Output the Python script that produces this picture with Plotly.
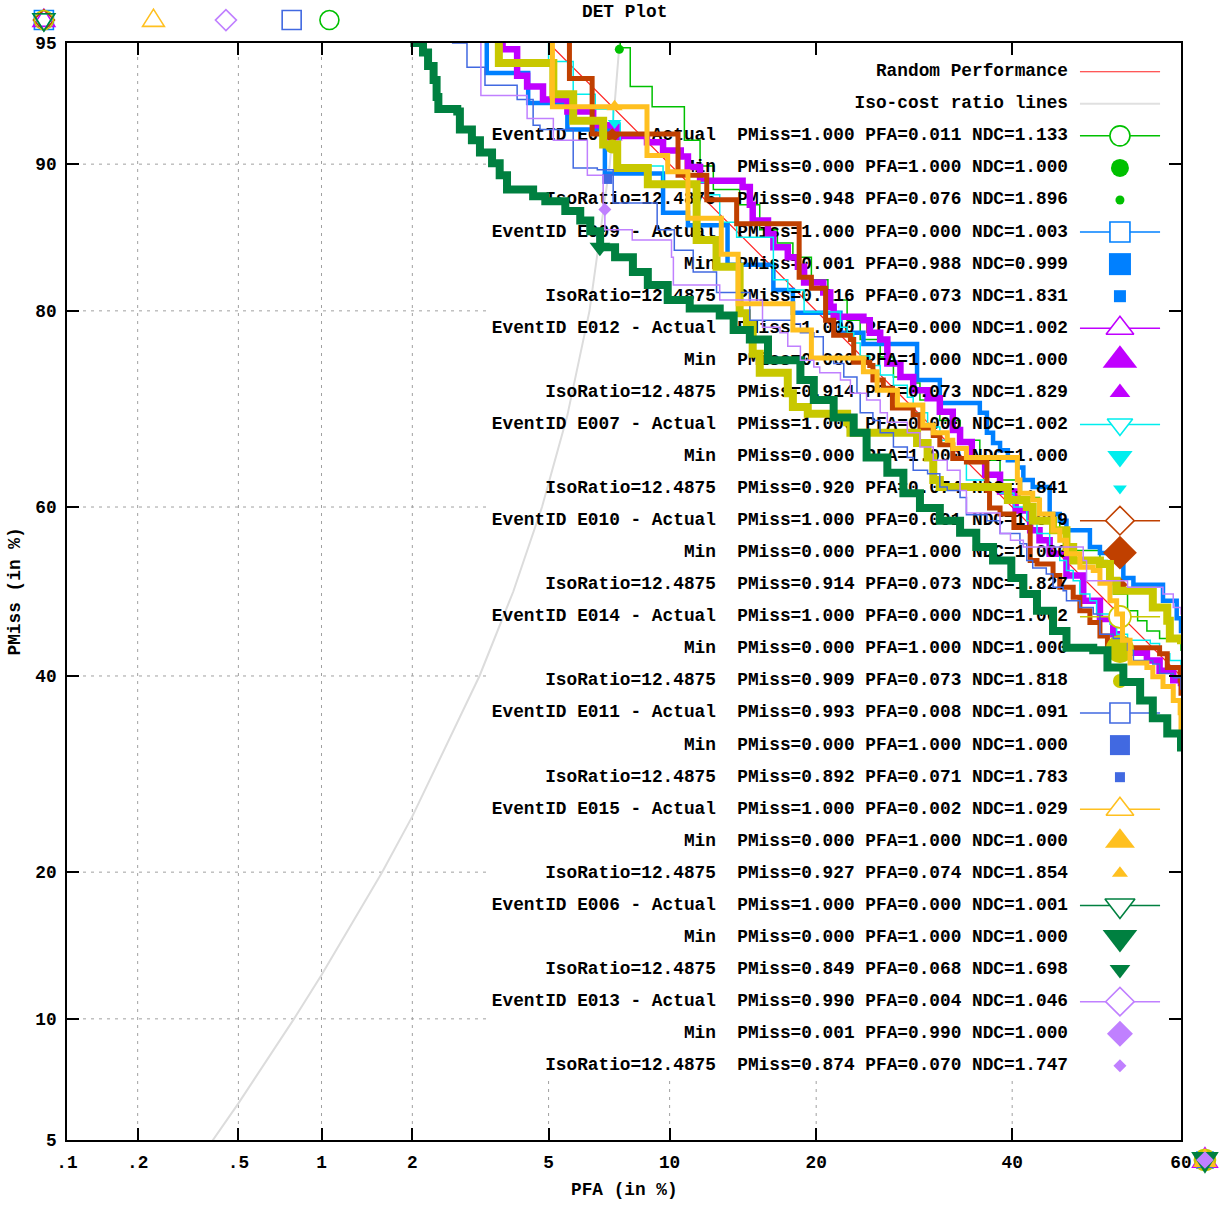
import plotly.graph_objects as go
from statistics import NormalDist

_nd = NormalDist()


def probit(pct):
    return _nd.inv_cdf(pct / 100.0)


# ---------------- axis ticks ----------------
x_tick_vals = [0.1, 0.2, 0.5, 1, 2, 5, 10, 20, 40, 60]
x_tick_text = [".1", ".2", ".5", "1", "2", "5", "10", "20", "40", "60"]
y_tick_vals = [5, 10, 20, 40, 60, 80, 90, 95]
y_tick_text = ["5", "10", "20", "40", "60", "80", "90", "95"]

# ---------------- reference lines ----------------
random_pfa = [5.0, 60.0]
random_pmiss = [95.0, 40.0]
isoline_pfa = [0.38, 0.5, 0.8, 1.0, 1.6, 2.0, 3.2, 4.0, 4.8, 5.6, 6.4, 7.2, 7.61]
isoline_pmiss = [4.75, 6.24, 10.0, 12.5, 20.0, 25.0, 40.0, 50.0, 60.0, 70.0, 80.0, 90.0, 95.0]

# ---------------- events ----------------
event_ids = ["E008", "E009", "E012", "E007", "E010", "E014", "E011", "E015", "E006", "E013"]
event_colors = ["#00c000", "#0080ff", "#c000ff", "#00eeee", "#c04000",
                "#c8c800", "#4169e1", "#ffc020", "#008040", "#c080ff"]
event_symbols = ["circle", "square", "triangle-up", "triangle-down", "diamond",
                 "circle", "square", "triangle-up", "triangle-down", "diamond"]
event_widths = [1.5, 4.5, 6.5, 1.5, 5, 8, 1.5, 5, 8, 1.5]
act_sizes = [20, 20, 24, 22, 22, 22, 20, 24, 26, 22]
min_sizes = [18, 22, 30, 22, 26, 28, 20, 26, 30, 20]
iso_sizes = [9, 12, 18, 12, 12, 14, 10, 14, 18, 10]

iso_ratio = "12.4875"
actual_pmiss = [1.000, 1.000, 1.000, 1.000, 1.000, 1.000, 0.993, 1.000, 1.000, 0.990]
actual_pfa = [0.011, 0.000, 0.000, 0.000, 0.001, 0.000, 0.008, 0.002, 0.000, 0.004]
actual_ndc = [1.133, 1.003, 1.002, 1.002, 1.009, 1.002, 1.091, 1.029, 1.001, 1.046]
min_pmiss = [0.000, 0.001, 0.000, 0.000, 0.000, 0.000, 0.000, 0.000, 0.000, 0.001]
min_pfa = [1.000, 0.988, 1.000, 1.000, 1.000, 1.000, 1.000, 1.000, 1.000, 0.990]
min_ndc = [1.000, 0.999, 1.000, 1.000, 1.000, 1.000, 1.000, 1.000, 1.000, 1.000]
iso_pmiss = [0.948, 0.916, 0.914, 0.920, 0.914, 0.909, 0.892, 0.927, 0.849, 0.874]
iso_pfa = [0.076, 0.073, 0.073, 0.074, 0.073, 0.073, 0.071, 0.074, 0.068, 0.070]
iso_ndc = [1.896, 1.831, 1.829, 1.841, 1.827, 1.818, 1.783, 1.854, 1.698, 1.747]

# ---------------- DET curves (PFA %, PMiss %) ----------------
pfa_E008 = [7.64, 7.64, 8.08, 9.11, 10.8, 11.7, 12.5, 14.2, 15.6, 16.9, 18.1, 19.6, 21.0, 22.7, 23.9,
            25.8, 27.1, 29.1, 29.8, 31.9, 34.1, 36.3, 38.6, 40.9, 43.2, 45.6, 46.4, 50.4, 51.3, 52.0,
            53.7, 54.9, 56.0, 57.5, 59.5, 60.0, 62.0]
pmiss_E008 = [97.0, 94.85, 93.5, 92.7, 91.2, 89.9, 88.6, 87.7, 86.1, 85.2, 84.2, 82.5, 80.9, 79.2, 77.5,
              75.9, 74.0, 73.4, 71.7, 69.6, 67.5, 65.3, 63.1, 61.1, 59.2, 57.3, 54.9, 53.7, 51.6, 49.7,
              47.7, 46.5, 45.3, 44.4, 44.2, 43.0, 42.0]

pfa_E009 = [3.36, 3.36, 4.4, 5.61, 7.0, 9.66, 11.0, 13.4, 16.6, 18.1, 22.1, 24.2, 29.5, 31.9, 36.3,
            37.1, 37.8, 38.6, 39.5, 40.6, 41.3, 42.4, 44.4, 45.6, 46.4, 49.2, 50.4, 52.8, 53.2, 54.4,
            57.9, 59.5, 60.0, 62.0]
pmiss_E009 = [97.0, 94.0, 92.85, 91.7, 89.5, 87.2, 86.4, 83.65, 81.7, 79.85, 78.1, 77.1, 73.7, 71.4, 70.4,
              68.3, 67.2, 66.4, 65.3, 64.5, 63.1, 62.3, 59.2, 58.4, 57.3, 55.3, 54.6, 53.7, 51.6, 50.8,
              48.9, 46.8, 45.3, 45.0]

pfa_E012 = [3.73, 3.73, 4.10, 4.37, 4.83, 5.61, 6.54, 7.5, 8.86, 9.66, 10.6, 11.0, 11.7, 14.4, 14.9,
            15.1, 16.2, 16.6, 17.7, 18.5, 19.0, 20.6, 21.2, 21.5, 24.2, 24.8, 25.8, 26.5, 27.8, 29.1,
            30.6, 31.9, 33.3, 34.1, 35.4, 36.9, 38.6, 40.4, 42.1, 43.2, 44.4, 46.4, 48.4, 50.4, 52.0,
            52.8, 54.4, 56.0, 57.5, 59.1, 60.0, 62.0]
pmiss_E012 = [97.0, 94.8, 93.9, 93.5, 93.0, 92.5, 91.9, 91.4, 91.1, 90.7, 90.4, 89.85, 89.1, 88.75, 87.7,
              86.7, 85.8, 84.9, 84.2, 83.5, 82.3, 81.5, 80.35, 79.5, 79.2, 78.1, 77.5, 75.3, 74.0, 72.7,
              71.9, 70.5, 68.6, 67.3, 65.5, 63.7, 61.8, 59.6, 57.3, 56.1, 54.5, 51.9, 48.9, 46.7, 44.9,
              43.0, 42.7, 41.8, 40.6, 39.5, 39.2, 39.0]

pfa_E007 = [5.0, 5.0, 5.81, 6.62, 7.34, 7.64, 9.66, 12.1, 12.9, 14.0, 16.6, 17.7, 19.0, 22.1, 22.7,
            23.3, 23.9, 24.8, 25.8, 27.1, 28.5, 29.1, 30.6, 31.9, 33.3, 34.8, 37.1, 38.6, 40.2, 41.7,
            42.9, 44.4, 45.6, 46.4, 47.2, 48.0, 49.2, 50.0, 51.6, 52.4, 53.7, 56.4, 57.5, 58.7, 60.0, 62.0]
pmiss_E007 = [97.0, 94.4, 93.2, 92.6, 92.0, 89.9, 89.0, 88.3, 86.6, 85.6, 82.5, 81.7, 79.9, 78.6, 78.1,
              77.2, 76.0, 75.1, 74.2, 73.2, 72.0, 70.4, 68.9, 67.5, 65.3, 63.1, 62.3, 61.6, 60.0, 58.4,
              56.9, 55.3, 53.7, 52.5, 51.3, 49.7, 48.9, 47.3, 46.1, 44.9, 44.2, 43.8, 42.6, 41.8, 40.6, 40.0]

pfa_E010 = [5.68, 5.68, 6.5, 10.45, 12.1, 14.0, 18.6, 19.6, 20.8, 21.5, 23.0, 23.3, 24.8, 25.1, 26.1,
            27.0, 29.1, 29.8, 31.2, 31.9, 33.3, 34.8, 37.1, 37.4, 38.6, 40.2, 42.1, 42.9, 44.8, 45.6,
            47.2, 48.0, 49.2, 50.4, 51.3, 57.5, 58.4, 59.9, 60.0, 62.0]
pmiss_E010 = [97.0, 93.8, 91.5, 89.4, 88.0, 86.5, 82.7, 81.85, 79.2, 77.9, 77.5, 75.4, 75.1, 73.7, 72.9,
              70.9, 70.2, 68.8, 68.0, 67.0, 65.5, 65.1, 61.9, 59.9, 59.2, 57.6, 53.7, 53.3, 51.9, 50.5,
              49.3, 47.7, 46.3, 44.7, 43.3, 42.6, 41.0, 39.5, 38.0, 37.0]

pfa_E014 = [3.64, 3.64, 5.15, 5.81, 6.93, 7.51, 8.9, 11.5, 12.7, 14.2, 14.7, 15.1, 15.6, 17.7, 18.1,
            19.3, 22.7, 23.0, 29.5, 30.6, 31.2, 31.9, 39.5, 41.7, 42.4, 44.8, 46.4, 47.2, 50.4, 51.6,
            52.4, 56.7, 58.4, 58.7, 60.0, 62.0]
pmiss_E014 = [97.0, 94.35, 93.2, 92.1, 91.0, 89.8, 88.9, 85.4, 83.5, 79.8, 78.8, 76.2, 74.4, 72.4, 71.0,
              70.3, 69.4, 68.3, 67.2, 65.6, 63.1, 62.3, 60.8, 60.0, 58.4, 57.3, 55.3, 53.7, 53.3, 51.3,
              50.1, 48.1, 46.5, 44.4, 44.2, 44.0]

pfa_E011 = [2.65, 2.94, 3.32, 4.1, 4.54, 4.74, 5.81, 6.7, 7.34, 9.36, 10.25, 11.3, 12.7, 14.9, 18.1,
            18.7, 19.8, 20.6, 21.5, 22.4, 23.6, 23.9, 25.1, 25.8, 27.1, 28.5, 29.1, 30.6, 31.9, 32.7,
            34.1, 34.8, 37.1, 38.6, 40.9, 41.7, 42.4, 44.0, 44.8, 46.0, 46.4, 48.0, 49.6, 50.4, 52.0,
            53.7, 54.4, 56.7, 57.5, 59.1, 60.0, 62.0]
pmiss_E011 = [95.0, 94.2, 93.55, 93.0, 91.9, 91.7, 89.8, 89.7, 87.8, 86.1, 84.7, 83.1, 81.5, 79.2, 78.9,
              78.1, 77.75, 75.9, 75.3, 74.0, 72.4, 70.4, 69.6, 68.3, 66.75, 65.6, 64.2, 63.8, 62.3, 61.9,
              61.1, 59.1, 58.4, 56.9, 55.7, 53.7, 52.8, 52.1, 50.5, 50.1, 48.9, 48.1, 47.3, 44.9, 44.4,
              43.0, 41.8, 41.4, 40.3, 39.8, 38.5, 38.0]

pfa_E015 = [5.12, 5.12, 8.86, 9.9, 11.0, 13.0, 14.1, 18.1, 19.6, 24.2, 25.5, 27.5, 30.1, 31.2, 32.7,
            33.3, 34.8, 40.6, 40.9, 42.4, 43.2, 44.8, 45.6, 46.4, 48.0, 49.6, 50.4, 51.6, 52.4, 53.1,
            54.0, 56.0, 56.7, 57.9, 59.1, 59.9, 60.0, 62.0]
pmiss_E015 = [97.0, 92.7, 90.45, 89.6, 86.85, 84.4, 80.6, 78.35, 75.8, 74.5, 72.7, 71.2, 69.1, 68.3, 67.5,
              66.6, 65.6, 63.1, 61.6, 60.8, 59.2, 57.3, 56.1, 54.5, 52.9, 52.5, 51.0, 48.9, 47.3, 44.2,
              41.5, 41.0, 39.9, 38.8, 37.2, 35.8, 33.8, 33.0]

pfa_E006 = [2.03, 2.03, 2.16, 2.24, 2.33, 2.38, 2.41, 2.75, 2.80, 3.04, 3.21, 3.48, 3.66, 3.84, 4.54,
            4.9, 5.54, 6.06, 6.43, 6.81, 7.42, 8.2, 8.9, 9.9, 11.1, 12.9, 13.8, 14.9, 16.2, 18.7,
            19.8, 21.5, 23.3, 24.5, 26.5, 28.1, 29.8, 31.9, 34.1, 35.9, 37.8, 39.9, 41.3, 42.9, 44.8,
            46.4, 49.6, 51.3, 53.2, 55.2, 56.7, 58.4, 60.0, 62.0]
pmiss_E006 = [97.0, 95.0, 94.7, 94.25, 93.75, 93.1, 92.6, 92.5, 91.7, 91.2, 90.6, 90.05, 89.4, 88.6, 88.2,
              87.9, 87.3, 86.7, 86.0, 84.9, 84.2, 83.1, 82.1, 80.9, 80.2, 79.6, 78.35, 77.5, 75.6, 73.7,
              71.7, 69.9, 68.3, 65.6, 63.9, 61.6, 59.9, 58.4, 57.0, 55.3, 53.7, 51.6, 49.7, 47.7, 45.3,
              43.3, 43.0, 41.0, 39.3, 37.2, 35.2, 33.5, 32.0, 31.0]

pfa_E013 = [3.23, 3.23, 4.37, 5.15, 6.32, 6.93, 7.0, 8.17, 10.1, 10.2, 12.9, 15.8, 17.1, 17.7, 18.7,
            19.8, 20.3, 22.1, 23.0, 24.5, 25.8, 26.5, 28.5, 29.8, 31.2, 32.7, 34.1, 34.8, 38.6, 39.8,
            41.3, 48.4, 48.8, 53.7, 57.9, 59.1, 60.0, 62.0]
pmiss_E013 = [97.0, 93.15, 92.2, 91.2, 89.4, 87.5, 86.1, 85.4, 84.2, 82.1, 80.9, 78.6, 78.1, 76.9, 75.6,
              74.95, 74.4, 73.7, 72.4, 71.7, 70.4, 69.4, 68.3, 66.75, 65.3, 64.2, 61.9, 59.3, 56.9, 56.1,
              55.3, 53.7, 51.3, 50.5, 49.7, 48.1, 47.3, 47.0]

curve_pfa = {"E008": pfa_E008, "E009": pfa_E009, "E012": pfa_E012, "E007": pfa_E007, "E010": pfa_E010,
             "E014": pfa_E014, "E011": pfa_E011, "E015": pfa_E015, "E006": pfa_E006, "E013": pfa_E013}
curve_pmiss = {"E008": pmiss_E008, "E009": pmiss_E009, "E012": pmiss_E012, "E007": pmiss_E007,
               "E010": pmiss_E010, "E014": pmiss_E014, "E011": pmiss_E011, "E015": pmiss_E015,
               "E006": pmiss_E006, "E013": pmiss_E013}

# points that fall outside the plotted range are pinned just outside the frame
OFF_LOW_PFA = 0.079     # PFA ~ 0 pinned left of the frame
OFF_HIGH_PMISS = 95.67  # PMiss ~ 1 pinned above the frame
OFF_HIGH_PFA = 62.75    # PFA ~ 1 pinned right of the frame
OFF_LOW_PMISS = 4.41    # PMiss ~ 0 pinned below the frame

# ---------------- geometry helpers ----------------
X0, X1 = probit(0.1), probit(60)
Y0, Y1 = probit(5), probit(95)


def xf(f):
    return X0 + f * (X1 - X0)


def yf_top(f):
    return Y1 - f * (Y1 - Y0)


def paper_x(pfa_pct):
    return (probit(pfa_pct) - X0) / (X1 - X0)


def paper_y(pmiss_pct):
    return (probit(pmiss_pct) - Y0) / (Y1 - Y0)


FONT = "Liberation Mono"
FS = 17.8
NB = "\u00a0"

KEY_TEXT_FX = 0.8986
KEY_SYM_FX = 0.9452
KEY_LINE_FX = (0.9093, 0.9812)
KEY_ROW0 = 0.0262
KEY_STEP = 0.02923


def row_y(k):
    return yf_top(KEY_ROW0 + k * KEY_STEP)


fig = go.Figure()
shapes = []


def key_text(rows, labels):
    fig.add_trace(go.Scatter(
        x=[xf(KEY_TEXT_FX)] * len(rows), y=[row_y(k) for k in rows],
        mode="text", text=[s.replace(" ", NB) for s in labels],
        textposition="middle left",
        textfont=dict(family=FONT, size=FS, color="black", weight="bold"),
        hoverinfo="skip", showlegend=False))


def key_line(k, color, width):
    fig.add_trace(go.Scatter(
        x=[xf(KEY_LINE_FX[0]), xf(KEY_LINE_FX[1])], y=[row_y(k), row_y(k)],
        mode="lines", line=dict(color=color, width=width),
        hoverinfo="skip", showlegend=False))


def marker(xs, ys, symbol, size, color, open_=False):
    if open_:
        m = dict(symbol=symbol, size=size, color="white", line=dict(color=color, width=1.6))
    else:
        m = dict(symbol=symbol, size=size, color=color, line=dict(width=0))
    fig.add_trace(go.Scatter(x=xs, y=ys, mode="markers", marker=m,
                             hoverinfo="skip", showlegend=False))


def outside_marker(px, py, symbol, size, color, filled):
    """marker pinned outside the frame, drawn as a pixel-sized shape anchored in paper units"""
    r = size / 2.0
    base = dict(xref="paper", yref="paper", xsizemode="pixel", ysizemode="pixel",
                xanchor=px, yanchor=py, layer="above",
                line=dict(color=color, width=0 if filled else 1.6),
                fillcolor=color if filled else "rgba(0,0,0,0)")
    if symbol == "circle":
        base.update(type="circle", x0=-r, x1=r, y0=-r, y1=r)
    elif symbol == "square":
        base.update(type="rect", x0=-r, x1=r, y0=-r, y1=r)
    elif symbol == "triangle-up":
        a = r * 1.15
        base.update(type="path", path="M%.1f,%.1f L%.1f,%.1f L0,%.1f Z" % (-a, -a * 0.58, a, -a * 0.58, a))
    elif symbol == "triangle-down":
        a = r * 1.15
        base.update(type="path", path="M%.1f,%.1f L%.1f,%.1f L0,%.1f Z" % (-a, a * 0.58, a, a * 0.58, -a))
    else:  # diamond
        a = r * 1.1
        base.update(type="path", path="M0,%.1f L%.1f,0 L0,%.1f L%.1f,0 Z" % (-a, a, a, -a))
    shapes.append(base)


# Random performance
key_text([0], ["Random Performance"])
key_line(0, "#ff2020", 1.2)
fig.add_trace(go.Scatter(x=[probit(v) for v in random_pfa], y=[probit(v) for v in random_pmiss],
                         mode="lines", line=dict(color="#ff2020", width=1.2),
                         hoverinfo="skip", showlegend=False))
# Iso-cost ratio line
key_text([1], ["Iso-cost ratio lines"])
key_line(1, "#e0e0e0", 2)
fig.add_trace(go.Scatter(x=[probit(v) for v in isoline_pfa], y=[probit(v) for v in isoline_pmiss],
                         mode="lines", line=dict(color="#dcdcdc", width=2),
                         hoverinfo="skip", showlegend=False))

for i, eid in enumerate(event_ids):
    col = event_colors[i]
    sym = event_symbols[i]
    r0 = 2 + 3 * i
    act_lbl = "EventID %s - Actual  PMiss=%.3f PFA=%.3f NDC=%.3f" % (eid, actual_pmiss[i], actual_pfa[i], actual_ndc[i])
    min_lbl = "Min  PMiss=%.3f PFA=%.3f NDC=%.3f" % (min_pmiss[i], min_pfa[i], min_ndc[i])
    iso_lbl = "IsoRatio=%s  PMiss=%.3f PFA=%.3f NDC=%.3f" % (iso_ratio, iso_pmiss[i], iso_pfa[i], iso_ndc[i])

    # actual curve
    key_text([r0], [act_lbl])
    key_line(r0, col, 1.5)
    marker([xf(KEY_SYM_FX)], [row_y(r0)], sym, act_sizes[i], col, open_=True)
    fig.add_trace(go.Scatter(
        x=[probit(v) for v in curve_pfa[eid]], y=[probit(v) for v in curve_pmiss[eid]],
        mode="lines", line=dict(color=col, width=event_widths[i], shape="hv"),
        hoverinfo="skip", showlegend=False))
    a_pfa = max((actual_ndc[i] - actual_pmiss[i]) / float(iso_ratio) * 100.0, OFF_LOW_PFA)
    outside_marker(paper_x(a_pfa), paper_y(OFF_HIGH_PMISS), sym, 19, col, filled=False)

    # minimum point
    key_text([r0 + 1], [min_lbl])
    marker([xf(KEY_SYM_FX)], [row_y(r0 + 1)], sym, min_sizes[i], col)
    outside_marker(paper_x(OFF_HIGH_PFA), paper_y(OFF_LOW_PMISS), sym, min_sizes[i] * 0.8, col, filled=True)

    # iso-ratio point
    key_text([r0 + 2], [iso_lbl])
    marker([xf(KEY_SYM_FX)], [row_y(r0 + 2)], sym, iso_sizes[i], col)
    marker([probit(iso_pfa[i] * 100)], [probit(iso_pmiss[i] * 100)], sym, iso_sizes[i], col)

# ---------------- grid (hidden behind the key box) ----------------
GRID = dict(color="#a0a0a0", width=1, dash="3px,5px")
KEY_LEFT_FX = 0.3797
KEY_BOTTOM_FY = 0.0547
for v in y_tick_vals[1:-1]:
    shapes.append(dict(type="line", xref="x domain", yref="y", x0=0, x1=KEY_LEFT_FX,
                       y0=probit(v), y1=probit(v), line=GRID, layer="below"))
for v in x_tick_vals[1:-1]:
    top = 1.0 if v < 3 else KEY_BOTTOM_FY
    shapes.append(dict(type="line", xref="x", yref="y domain", x0=probit(v), x1=probit(v),
                       y0=0, y1=top, line=GRID, layer="below"))

tfont = dict(family=FONT, size=FS, color="black", weight="bold")
fig.update_layout(
    width=1225, height=1205,
    margin=dict(l=67, r=44, t=43, b=65),
    paper_bgcolor="white", plot_bgcolor="white",
    shapes=shapes,
    showlegend=False,
    annotations=[
        dict(text="DET Plot", xref="paper", yref="paper", x=0.5, y=1.0283, showarrow=False,
             xanchor="center", yanchor="middle", font=tfont),
        dict(text="PFA (in %)", xref="paper", yref="paper", x=0.5, y=-0.0456, showarrow=False,
             xanchor="center", yanchor="middle", font=tfont),
        dict(text="PMiss (in %)", xref="paper", yref="paper", x=-0.0467, y=0.5, showarrow=False,
             xanchor="center", yanchor="middle", textangle=-90, font=tfont),
    ],
)
axis_common = dict(ticks="inside", ticklen=12, tickwidth=1.5, tickcolor="black",
                   showline=True, linecolor="black", linewidth=1.5, mirror="ticks",
                   showgrid=False, zeroline=False, tickfont=tfont, ticklabelstandoff=5)
fig.update_xaxes(range=[X0, X1], tickmode="array", tickvals=[probit(v) for v in x_tick_vals],
                 ticktext=x_tick_text, **axis_common)
fig.update_yaxes(range=[Y0, Y1], tickmode="array", tickvals=[probit(v) for v in y_tick_vals],
                 ticktext=y_tick_text, **axis_common)

fig.write_html("out.html", config={"displayModeBar": False},
               post_script="document.body.style.margin='0';document.body.style.overflow='hidden';")
